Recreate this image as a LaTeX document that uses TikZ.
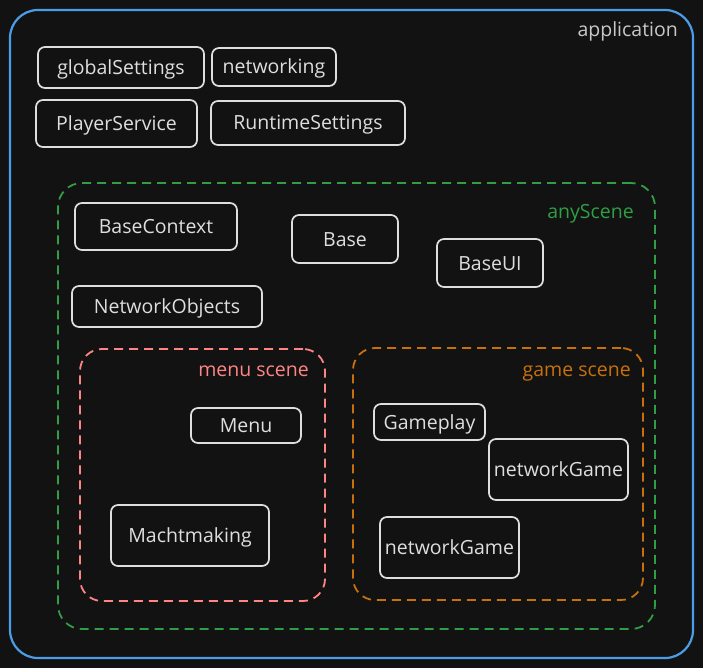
\documentclass[tikz,border=0pt]{standalone}
\usepackage{fontspec}
\setmainfont{Open Sans}
\definecolor{bg}{HTML}{121212}
\definecolor{fg}{HTML}{DEDEDE}
\definecolor{lbl}{HTML}{C8C8C8}
\definecolor{blueapp}{HTML}{4A9DE6}
\definecolor{greenany}{HTML}{2F9E44}
\definecolor{redmenu}{HTML}{FF8585}
\definecolor{orangegame}{HTML}{C8700C}
\tikzset{
  box/.style={draw=fg, line width=1.7pt, rounded corners=7pt, text=fg, font=\fontsize{19.5}{22}\selectfont, inner sep=0pt, text height=14pt, text depth=0pt},
  cont/.style={line width=1.8pt, dash pattern=on 9pt off 6pt, inner sep=0pt},
  lab/.style={anchor=east, inner sep=0pt, font=\fontsize{19.5}{22}\selectfont}
}
\begin{document}
\begin{tikzpicture}[x=1pt,y=-1pt]
\useasboundingbox (0,0) rectangle (703,668);
\fill[bg] (0,0) rectangle (703,668);
% containers
\node[draw=blueapp, line width=2.2pt, rounded corners=28pt, minimum width=683pt, minimum height=648pt, inner sep=0pt] (app) at (351.5,334) {};
\node[lab, text=lbl] (applbl) at (678,31) {application};
\node[cont, draw=greenany, rounded corners=24pt, minimum width=597pt, minimum height=446pt] (any) at (356.5,406) {};
\node[lab, text=greenany] (anylbl) at (634,214) {anyScene};
\node[cont, draw=redmenu, rounded corners=22pt, minimum width=245pt, minimum height=252pt] (menusc) at (202.5,475) {};
\node[lab, text=redmenu] (menulbl) at (309,371) {menu scene};
\node[cont, draw=orangegame, rounded corners=22pt, minimum width=290pt, minimum height=252pt] (gamesc) at (498,474) {};
\node[lab, text=orangegame] (gamelbl) at (631,374) {game scene};
% boxes
\node[box, minimum width=166pt, minimum height=41pt] (gs) at (121,67.5) {globalSettings};
\node[box, minimum width=124pt, minimum height=38pt] (net) at (274,67) {networking};
\node[box, minimum width=161pt, minimum height=47pt] (ps) at (116.5,123.5) {PlayerService};
\node[box, minimum width=194pt, minimum height=44pt] (rs) at (308,123) {RuntimeSettings};
\node[box, minimum width=162pt, minimum height=47pt] (bc) at (156,226.5) {BaseContext};
\node[box, minimum width=106pt, minimum height=48pt] (base) at (345,239) {Base};
\node[box, minimum width=106pt, minimum height=48pt] (bui) at (490,263) {BaseUI};
\node[box, minimum width=190pt, minimum height=41pt] (no) at (167,306.5) {NetworkObjects};
\node[box, minimum width=110pt, minimum height=35pt] (menu) at (246,425.5) {Menu};
\node[box, minimum width=158pt, minimum height=61pt] (mm) at (190,535.5) {Machtmaking};
\node[box, minimum width=111pt, minimum height=36pt] (gp) at (429.5,422) {Gameplay};
\node[box, minimum width=139pt, minimum height=61pt] (ng1) at (558.5,469.5) {networkGame};
\node[box, minimum width=139pt, minimum height=61pt] (ng2) at (449.5,547.5) {networkGame};
\end{tikzpicture}
\end{document}
